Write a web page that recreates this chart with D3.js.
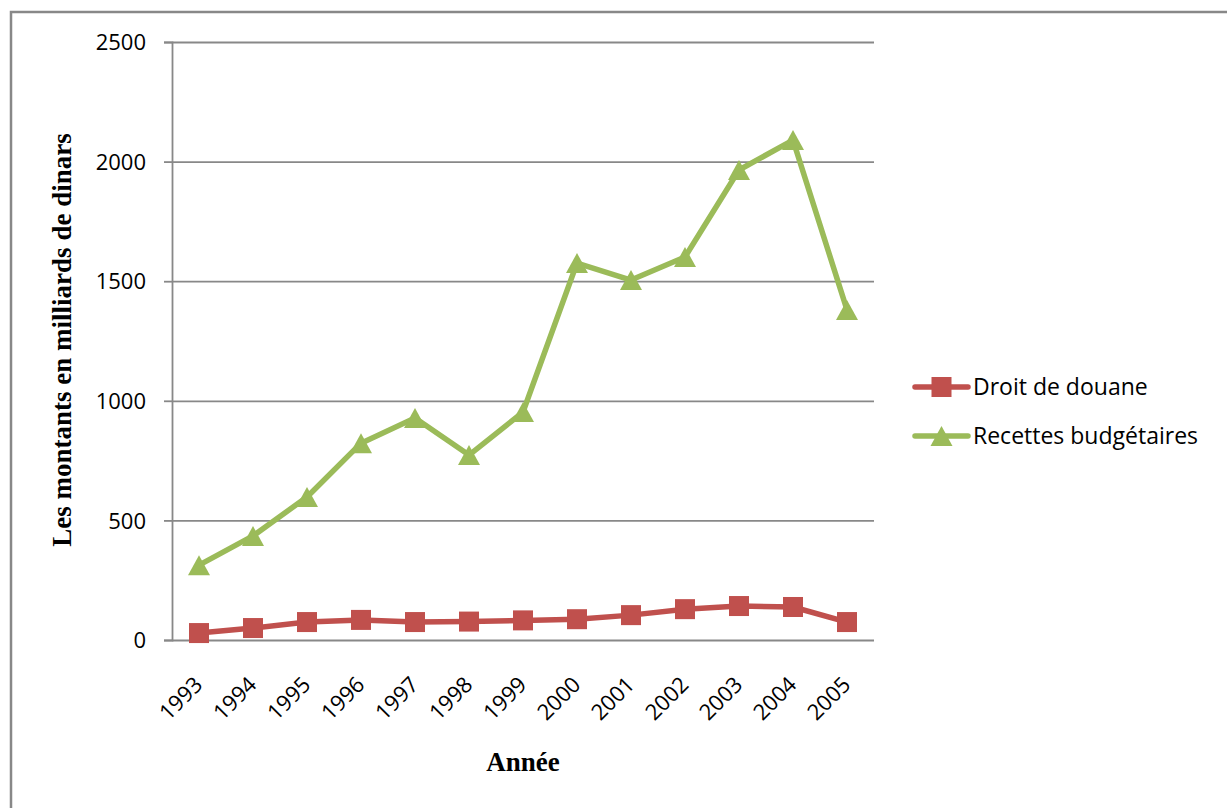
<!doctype html>
<html>
<head>
    <meta charset="utf-8">
    <script src="https://d3js.org/d3.v7.min.js"></script>
    <style>
        body { margin: 0; background: #fff; }
        .tick text { font-family: "Open Sans", sans-serif; font-size: 22px; fill: #000; }
        .legend text { font-family: "Open Sans", sans-serif; font-size: 23px; fill: #000; }
        .title { font-family: "Liberation Serif", serif; font-weight: bold; font-size: 27px; }
    </style>
</head>
<body>

<svg width="1227" height="808"></svg>

<script>
    var years = ["1993", "1994", "1995", "1996", "1997", "1998", "1999", "2000", "2001", "2002", "2003", "2004", "2005"];
    var douane = [29, 50, 75, 84, 75, 77, 82, 87, 104, 129, 142, 138, 75];
    var recettes = [313, 435, 598, 823, 928, 773, 953, 1576, 1505, 1601, 1965, 2090, 1380];
    var yTicks = [0, 500, 1000, 1500, 2000, 2500];

    var series = [
        {name: "Droit de douane", values: douane, color: "#C0504D", marker: "square"},
        {name: "Recettes budgétaires", values: recettes, color: "#9BBB59", marker: "triangle"}
    ];

    var svg = d3.select("svg");
    var plotLeft = 172, plotRight = 874, plotTop = 42, plotBottom = 640;

    // outer frame of the chart area
    svg.append("rect")
        .attr("x", 11).attr("y", 12)
        .attr("width", 1240).attr("height", 820)
        .attr("fill", "none").attr("stroke", "#888").attr("stroke-width", 2.5);

    var x = d3.scaleBand().domain(years).range([plotLeft, plotRight]);
    var y = d3.scaleLinear().domain([0, 2500]).range([plotBottom, plotTop]);

    // gridlines + y axis
    var yAxis = svg.append("g")
        .attr("transform", "translate(" + plotLeft + ",0)")
        .call(d3.axisLeft(y).tickValues(yTicks).tickFormat(d3.format("d")).tickSize(8).tickPadding(18));
    yAxis.select(".domain").attr("stroke", "#888").attr("stroke-width", 1.8);
    yAxis.selectAll(".tick line").attr("stroke", "#888").attr("stroke-width", 1.8);
    yAxis.selectAll(".tick").append("line")
        .attr("x1", 0).attr("x2", plotRight - plotLeft)
        .attr("stroke", "#888").attr("stroke-width", 1.8);
    yAxis.selectAll(".tick text").attr("dy", "0.35em");

    // x axis labels, rotated
    var xAxis = svg.append("g")
        .attr("transform", "translate(0," + plotBottom + ")")
        .call(d3.axisBottom(x).tickSize(0).tickPadding(0));
    xAxis.select(".domain").remove();
    xAxis.selectAll(".tick text")
        .attr("text-anchor", "end")
        .attr("dy", 0)
        .attr("transform", "translate(5,46) rotate(-45)");

    var line = d3.line()
        .x(function(d, i) { return x(years[i]) + x.bandwidth() / 2; })
        .y(function(d) { return y(d); });

    function drawMarker(g, s, cx, cy) {
        if (s.marker == "square") {
            g.append("rect")
                .attr("x", cx - 10).attr("y", cy - 10)
                .attr("width", 20).attr("height", 20)
                .attr("fill", s.color);
        } else {
            g.append("path")
                .attr("d", "M0,-10L11,10L-11,10Z")
                .attr("transform", "translate(" + cx + "," + cy + ")")
                .attr("fill", s.color);
        }
    }

    series.forEach(function(s) {
        svg.append("path")
            .datum(s.values)
            .attr("d", line)
            .attr("fill", "none")
            .attr("stroke", s.color)
            .attr("stroke-width", 5.5)
            .attr("stroke-linejoin", "round");
        var g = svg.append("g");
        s.values.forEach(function(v, i) {
            drawMarker(g, s, x(years[i]) + x.bandwidth() / 2, y(v));
        });
    });

    // legend
    var legend = svg.append("g").attr("class", "legend");
    series.forEach(function(s, i) {
        var ly = 387 + i * 49;
        legend.append("line")
            .attr("x1", 915).attr("x2", 968)
            .attr("y1", ly).attr("y2", ly)
            .attr("stroke", s.color).attr("stroke-width", 5.5)
            .attr("stroke-linecap", "round");
        drawMarker(legend, s, 941.5, ly);
        legend.append("text")
            .attr("x", 973).attr("y", ly)
            .attr("dy", "0.35em")
            .text(s.name);
    });

    // axis titles
    svg.append("text")
        .attr("class", "title")
        .attr("text-anchor", "middle")
        .attr("transform", "translate(71,340) rotate(-90)")
        .text("Les montants en milliards de dinars");

    svg.append("text")
        .attr("class", "title")
        .attr("text-anchor", "middle")
        .attr("x", 523).attr("y", 771)
        .text("Année");
</script>
</body>
</html>
